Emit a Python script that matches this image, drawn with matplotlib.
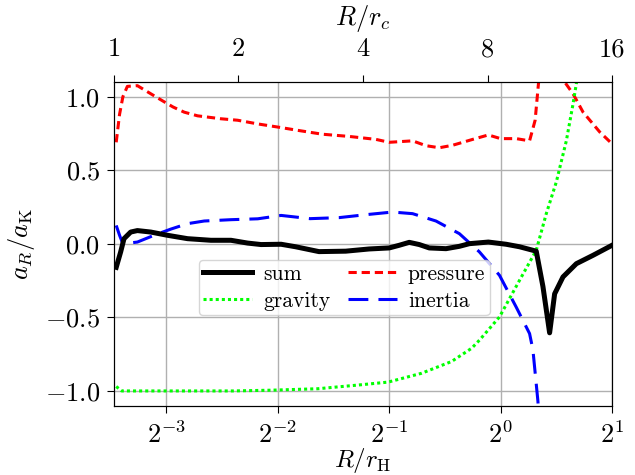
import numpy as np
import matplotlib
matplotlib.use('Agg')
import matplotlib.pyplot as plt
from matplotlib.ticker import FixedLocator, FixedFormatter, NullLocator

plt.rcParams['font.family'] = 'serif'
plt.rcParams['font.serif'] = ['cmr10']
plt.rcParams['mathtext.fontset'] = 'cm'
plt.rcParams['axes.formatter.use_mathtext'] = True
plt.rcParams['font.size'] = 19

# x values stored as log2(R/r_H)
sum_lg = [-3.45, -3.41, -3.38, -3.32, -3.26, -3.14, -2.99, -2.81, -2.60, -2.42, -2.27, -2.15,
          -1.97, -1.84, -1.63, -1.39, -1.18, -1.00, -0.91, -0.82, -0.73, -0.64, -0.49, -0.37,
          -0.28, -0.11, 0.05, 0.17, 0.32, 0.38, 0.44, 0.485, 0.56, 0.68, 0.83, 1.0]
sum_val = [-0.16, -0.055, 0.035, 0.08, 0.09, 0.08, 0.058, 0.035, 0.024, 0.024, 0.005, -0.005,
           -0.003, -0.02, -0.053, -0.05, -0.035, -0.028, -0.01, 0.01, -0.005, -0.028, -0.033, -0.017,
           0.001, 0.012, -0.003, -0.02, -0.05, -0.29, -0.605, -0.34, -0.225, -0.135, -0.078, -0.01]

pres_lg = [-3.45, -3.42, -3.39, -3.35, -3.26, -3.14, -3.03, -2.94, -2.84, -2.72, -2.51, -2.36,
           -2.18, -1.97, -1.81, -1.60, -1.36, -1.12, -1.00, -0.79, -0.67, -0.55, -0.43, -0.25,
           -0.11, 0.0, 0.14, 0.26, 0.31, 0.34, 0.45, 0.575, 0.65, 0.74, 0.89, 1.0]
pres_val = [0.69, 0.88, 1.0, 1.07, 1.075, 1.02, 0.97, 0.93, 0.895, 0.87, 0.85, 0.84,
            0.815, 0.79, 0.77, 0.745, 0.73, 0.71, 0.69, 0.70, 0.667, 0.653, 0.67, 0.71,
            0.74, 0.715, 0.715, 0.70, 0.84, 1.09, 1.6, 1.1, 1.02, 0.895, 0.76, 0.68]

grav_lg = [-3.45, -3.40, -3.2, -2.8, -2.4, -2.06, -1.64, -1.28, -1.01, -0.71, -0.44, -0.26,
           -0.19, -0.01, 0.17, 0.32, 0.41, 0.50, 0.59, 0.65, 0.68, 0.75, 0.85, 1.0]
grav_val = [-0.97, -1.0, -1.0, -1.0, -1.0, -0.995, -0.985, -0.96, -0.94, -0.88, -0.80, -0.71,
            -0.655, -0.497, -0.248, -0.044, 0.205, 0.42, 0.70, 0.95, 1.09, 1.5, 2.1, 3.2]

iner_lg = [-3.45, -3.42, -3.39, -3.26, -3.11, -2.96, -2.81, -2.66, -2.42, -2.18, -1.97, -1.71,
           -1.45, -1.21, -0.97, -0.79, -0.58, -0.37, -0.19, -0.01, 0.14, 0.26, 0.29, 0.335,
           0.40, 0.5, 0.7, 1.0]
iner_val = [0.125, 0.058, 0.0, 0.012, 0.058, 0.10, 0.137, 0.155, 0.164, 0.17, 0.193, 0.171,
            0.178, 0.198, 0.216, 0.205, 0.155, 0.069, -0.055, -0.214, -0.43, -0.61, -0.72, -1.07,
            -1.9, -2.5, -3.0, -3.5]

top_ticks = [1, 2, 4, 8, 16]

fig = plt.figure(figsize=(6.35, 4.75), dpi=100)
ax = fig.add_axes([0.1795, 0.146, 0.7843, 0.6814])

l_sum, = ax.plot(2.0 ** np.array(sum_lg), sum_val, color='k', lw=3.6, label='sum', zorder=5)
l_pres, = ax.plot(2.0 ** np.array(pres_lg), pres_val, color='#ff0000', lw=2.2, dashes=(2.7, 1.6),
                  label='pressure')
l_grav, = ax.plot(2.0 ** np.array(grav_lg), grav_val, color='#00ff00', lw=2.2, dashes=(1, 1),
                  label='gravity')
l_iner, = ax.plot(2.0 ** np.array(iner_lg), iner_val, color='#0000ff', lw=2.2, dashes=(6.5, 3.3),
                  label='inertia')

ax.set_xscale('log', base=2)
ax.set_xlim(2.0 ** -3.47, 2.0)
ax.set_ylim(-1.1, 1.1)
ax.set_yticks([-1.0, -0.5, 0.0, 0.5, 1.0])
ax.xaxis.set_minor_locator(NullLocator())
ax.tick_params(axis='x', length=5, pad=6)
ax.tick_params(axis='y', length=5, pad=5)
ax.grid(True, color='#b0b0b0', lw=1)
ax.set_axisbelow(True)
ax.set_xlabel(r'$R/r_\mathrm{H}$', fontsize=18, labelpad=-1)
ax.set_ylabel(r'$a_R/a_\mathrm{K}$', labelpad=6)

# column-wise fill: sum/gravity in first column, pressure/inertia in second
ax.legend([l_sum, l_grav, l_pres, l_iner], ['sum', 'gravity', 'pressure', 'inertia'],
          ncol=2, loc='center', bbox_to_anchor=(0.462, 0.365), handlelength=2.3,
          columnspacing=0.8, borderpad=0.2, labelspacing=0.35, handletextpad=0.5, fontsize=15.5)

ax2 = ax.twiny()
ax2.set_xscale('log', base=2)
ax2.set_xlim(1, 16)
ax2.xaxis.set_major_locator(FixedLocator(top_ticks))
ax2.xaxis.set_major_formatter(FixedFormatter([str(t) for t in top_ticks]))
ax2.xaxis.set_minor_locator(NullLocator())
ax2.tick_params(axis='x', length=5, pad=10)
ax2.set_xlabel(r'$R/r_c$', labelpad=9)

fig.savefig('out.png', dpi=100)
